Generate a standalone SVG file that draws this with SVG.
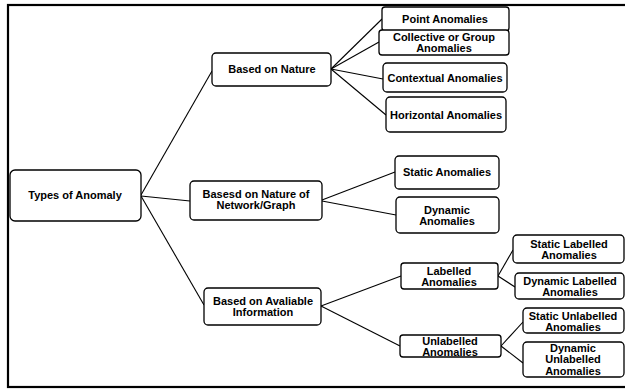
<svg xmlns="http://www.w3.org/2000/svg" width="625" height="389" viewBox="0 0 625 389">
<style>
.n{fill:#fff;stroke:#000;stroke-width:1.3}
.t{font-family:"Liberation Sans",Arial,sans-serif;font-weight:bold;font-size:11px;fill:#000;text-anchor:middle}
.c{fill:none;stroke:#000;stroke-width:1.1}
</style>
<rect x="8" y="5" width="640" height="382" fill="#fff" stroke="#000" stroke-width="2.2"/>
<g id="connectors">
<path class="c" d="M141,195 L212,71"/>
<path class="c" d="M141,196 L190,201"/>
<path class="c" d="M141,196 L204,305"/>
<path class="c" d="M331,69 L382,19"/>
<path class="c" d="M331,69 L379,42"/>
<path class="c" d="M331,69 L383,79"/>
<path class="c" d="M331,69 L386,115"/>
<path class="c" d="M322,200 L395,172"/>
<path class="c" d="M322,201 L396,215"/>
<path class="c" d="M321,306 L401,276"/>
<path class="c" d="M321,306 L400,346"/>
<path class="c" d="M498,276 L513,250"/>
<path class="c" d="M498,276 L515,287"/>
<path class="c" d="M501,346 L523,322"/>
<path class="c" d="M501,346 L523,363"/>
</g>
<g id="types"><rect class="n" x="10" y="170" width="131" height="51" rx="5"/><text class="t" x="75" y="199">Types of Anomaly</text></g>
<g id="nature"><rect class="n" x="212" y="53" width="119" height="33" rx="4"/><text class="t" x="272" y="73">Based on Nature</text></g>
<g id="network"><rect class="n" x="190" y="181" width="132" height="39" rx="4"/><text class="t" x="256" y="198">Basesd on Nature of</text><text class="t" x="256" y="209">Network/Graph</text></g>
<g id="available"><rect class="n" x="204" y="288" width="117" height="37" rx="4"/><text class="t" x="263" y="305">Based on Avaliable</text><text class="t" x="263" y="316">Information</text></g>
<g id="point"><rect class="n" x="382" y="7" width="127" height="24" rx="3"/><text class="t" x="445" y="23">Point Anomalies</text></g>
<g id="collective"><rect class="n" x="379" y="30" width="130" height="25" rx="3"/><text class="t" x="444" y="41">Collective or Group</text><text class="t" x="444" y="52">Anomalies</text></g>
<g id="contextual"><rect class="n" x="383" y="63" width="124" height="29" rx="4"/><text class="t" x="445" y="82">Contextual Anomalies</text></g>
<g id="horizontal"><rect class="n" x="386" y="97" width="120" height="35" rx="4"/><text class="t" x="446" y="119">Horizontal  Anomalies</text></g>
<g id="static"><rect class="n" x="395" y="156" width="104" height="33" rx="4"/><text class="t" x="447" y="176">Static Anomalies</text></g>
<g id="dynamic"><rect class="n" x="396" y="197" width="103" height="36" rx="4"/><text class="t" x="447" y="214">Dynamic</text><text class="t" x="447" y="225">Anomalies</text></g>
<g id="labelled"><rect class="n" x="401" y="263" width="97" height="26" rx="3"/><text class="t" x="449" y="275">Labelled</text><text class="t" x="449" y="286">Anomalies</text></g>
<g id="unlabelled"><rect class="n" x="400" y="335" width="101" height="22" rx="3"/><text class="t" x="450" y="345">Unlabelled</text><text class="t" x="450" y="356">Anomalies</text></g>
<g id="static-labelled"><rect class="n" x="513" y="235" width="111" height="28" rx="4"/><text class="t" x="569" y="248">Static Labelled</text><text class="t" x="569" y="259">Anomalies</text></g>
<g id="dynamic-labelled"><rect class="n" x="515" y="273" width="109" height="26" rx="4"/><text class="t" x="570" y="285">Dynamic Labelled</text><text class="t" x="570" y="296">Anomalies</text></g>
<g id="static-unlabelled"><rect class="n" x="523" y="308" width="101" height="25" rx="4"/><text class="t" x="573" y="320">Static Unlabelled</text><text class="t" x="573" y="331">Anomalies</text></g>
<g id="dynamic-unlabelled"><rect class="n" x="523" y="342" width="101" height="35" rx="4"/><text class="t" x="573" y="352">Dynamic</text><text class="t" x="573" y="363">Unlabelled</text><text class="t" x="573" y="375">Anomalies</text></g>
</svg>
